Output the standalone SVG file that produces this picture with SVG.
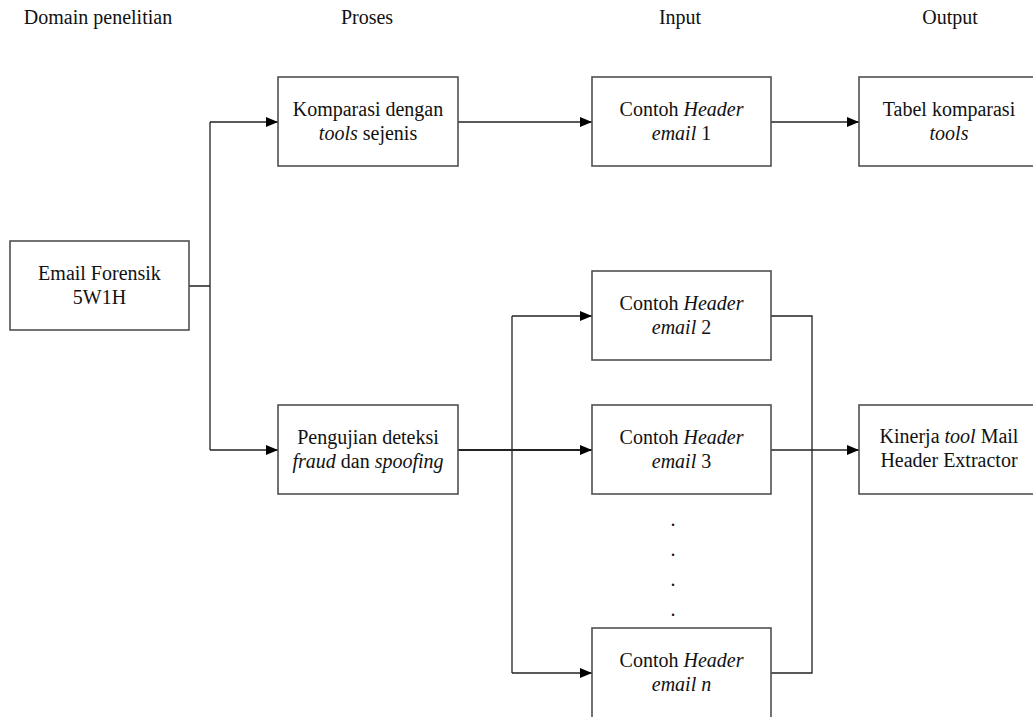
<svg xmlns="http://www.w3.org/2000/svg" width="1033" height="717" viewBox="0 0 1033 717">
<style>
text{font-family:"Liberation Serif","Times New Roman",serif;font-size:20px;fill:#111;text-anchor:middle}
.i{font-style:italic}
.box{fill:#fff;stroke:#505050;stroke-width:1.6}
.ln{fill:none;stroke:#222;stroke-width:1.3}
</style>
<defs>
<marker id="ah" viewBox="0 0 12 10" refX="12" refY="5" markerWidth="12" markerHeight="10" markerUnits="userSpaceOnUse" orient="auto">
<path d="M0,0 L12,5 L0,10 Z" fill="#000"/>
</marker>
</defs>
<rect width="1033" height="717" fill="#fff"/>
<g id="headers">
<text x="98" y="24">Domain penelitian</text>
<text x="367" y="24">Proses</text>
<text x="680" y="24">Input</text>
<text x="950" y="24">Output</text>
</g>
<g id="connectors">
<path class="ln" d="M189,286 H210 M210,122 V450"/>
<path class="ln" d="M210,122 H278" marker-end="url(#ah)"/>
<path class="ln" d="M210,450 H278" marker-end="url(#ah)"/>
<path class="ln" d="M458,122 H592" marker-end="url(#ah)"/>
<path class="ln" d="M771,122 H859" marker-end="url(#ah)"/>
<path class="ln" d="M458,450 H592" marker-end="url(#ah)" style="stroke-width:1.8"/>
<path class="ln" d="M512,316 V673"/>
<path class="ln" d="M512,316 H592" marker-end="url(#ah)"/>
<path class="ln" d="M512,673 H592" marker-end="url(#ah)"/>
<path class="ln" d="M771,316 H812 V673 H771"/>
<path class="ln" d="M771,450 H859" marker-end="url(#ah)"/>
</g>
<g id="email-forensik">
<rect class="box" x="10" y="241" width="179" height="89"/>
<text x="99.5" y="280">Email Forensik</text>
<text x="99.5" y="304">5W1H</text>
</g>
<g id="komparasi">
<rect class="box" x="278" y="77" width="180" height="89"/>
<text x="368" y="116">Komparasi dengan</text>
<text x="368" y="140"><tspan class="i">tools</tspan> sejenis</text>
</g>
<g id="pengujian">
<rect class="box" x="278" y="405" width="180" height="89"/>
<text x="368" y="444">Pengujian deteksi</text>
<text x="368" y="468"><tspan class="i">fraud</tspan> dan <tspan class="i">spoofing</tspan></text>
</g>
<g id="contoh1">
<rect class="box" x="592" y="77" width="179" height="89"/>
<text x="681.5" y="116">Contoh <tspan class="i">Header</tspan></text>
<text x="681.5" y="140"><tspan class="i">email</tspan> 1</text>
</g>
<g id="contoh2">
<rect class="box" x="592" y="271" width="179" height="89"/>
<text x="681.5" y="310">Contoh <tspan class="i">Header</tspan></text>
<text x="681.5" y="334"><tspan class="i">email</tspan> 2</text>
</g>
<g id="contoh3">
<rect class="box" x="592" y="405" width="179" height="89"/>
<text x="681.5" y="444">Contoh <tspan class="i">Header</tspan></text>
<text x="681.5" y="468"><tspan class="i">email</tspan> 3</text>
</g>
<g id="dots">
<text x="673" y="526">.</text>
<text x="673" y="556">.</text>
<text x="673" y="586">.</text>
<text x="673" y="616">.</text>
</g>
<g id="contohn">
<rect class="box" x="592" y="628" width="179" height="92"/>
<text x="681.5" y="667">Contoh <tspan class="i">Header</tspan></text>
<text x="681.5" y="691"><tspan class="i">email n</tspan></text>
</g>
<g id="tabel">
<rect class="box" x="859" y="77" width="180" height="89"/>
<text x="949" y="116">Tabel komparasi</text>
<text x="949" y="140" class="i">tools</text>
</g>
<g id="kinerja">
<rect class="box" x="859" y="405" width="180" height="89"/>
<text x="949" y="443">Kinerja <tspan class="i">tool</tspan> Mail</text>
<text x="949" y="467">Header Extractor</text>
</g>
</svg>
